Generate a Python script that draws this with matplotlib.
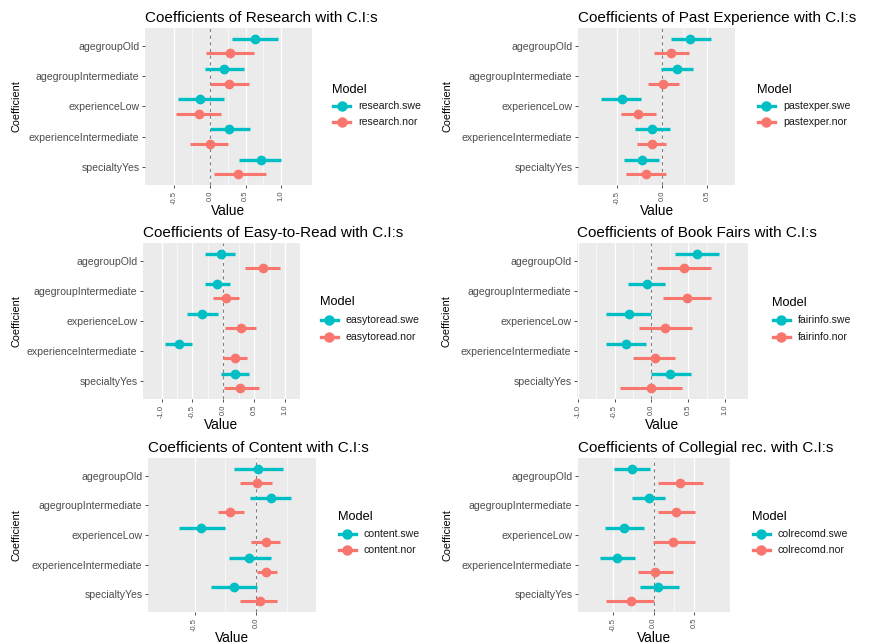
import matplotlib
matplotlib.use('Agg')
import matplotlib.pyplot as plt
from matplotlib.lines import Line2D
from matplotlib.ticker import FixedLocator

plt.rcParams['font.family'] = ['Liberation Sans', 'DejaVu Sans']

W, H = 870, 643

categories = ["agegroupOld", "agegroupIntermediate", "experienceLow",
              "experienceIntermediate", "specialtyYes"]

titles = ["Coefficients of Research with C.I:s",
          "Coefficients of Past Experience with C.I:s",
          "Coefficients of Easy-to-Read with C.I:s",
          "Coefficients of Book Fairs with C.I:s",
          "Coefficients of Content with C.I:s",
          "Coefficients of Collegial rec. with C.I:s"]

model_names = [("research.swe", "research.nor"),
               ("pastexper.swe", "pastexper.nor"),
               ("easytoread.swe", "easytoread.nor"),
               ("fairinfo.swe", "fairinfo.nor"),
               ("content.swe", "content.nor"),
               ("colrecomd.swe", "colrecomd.nor")]

# ---- estimates and (inner) confidence limits, per panel ----
research_swe = [0.63, 0.19, -0.14, 0.27, 0.72]
research_swe_lo = [0.31, -0.07, -0.45, 0.00, 0.41]
research_swe_hi = [0.96, 0.48, 0.20, 0.56, 1.00]
research_nor = [0.28, 0.27, -0.16, 0.00, 0.40]
research_nor_lo = [-0.05, 0.00, -0.48, -0.28, 0.05]
research_nor_hi = [0.62, 0.55, 0.15, 0.25, 0.78]

pastexper_swe = [0.31, 0.17, -0.44, -0.11, -0.22]
pastexper_swe_lo = [0.10, -0.01, -0.67, -0.30, -0.42]
pastexper_swe_hi = [0.54, 0.35, -0.23, 0.09, -0.03]
pastexper_nor = [0.10, 0.01, -0.26, -0.11, -0.18]
pastexper_nor_lo = [-0.09, -0.15, -0.45, -0.28, -0.40]
pastexper_nor_hi = [0.30, 0.19, -0.07, 0.04, 0.04]

easytoread_swe = [-0.04, -0.10, -0.35, -0.71, 0.19]
easytoread_swe_lo = [-0.30, -0.30, -0.59, -0.95, -0.04]
easytoread_swe_hi = [0.19, 0.11, -0.08, -0.50, 0.42]
easytoread_nor = [0.64, 0.04, 0.28, 0.19, 0.27]
easytoread_nor_lo = [0.35, -0.17, 0.03, 0.00, 0.01]
easytoread_nor_hi = [0.91, 0.26, 0.53, 0.38, 0.57]

fairinfo_swe = [0.62, -0.06, -0.30, -0.35, 0.25]
fairinfo_swe_lo = [0.32, -0.32, -0.61, -0.61, -0.01]
fairinfo_swe_hi = [0.92, 0.19, 0.00, -0.08, 0.53]
fairinfo_nor = [0.44, 0.48, 0.19, 0.05, 0.00]
fairinfo_nor_lo = [0.07, 0.16, -0.17, -0.25, -0.43]
fairinfo_nor_hi = [0.81, 0.81, 0.55, 0.32, 0.41]

content_swe = [0.02, 0.12, -0.45, -0.06, -0.18]
content_swe_lo = [-0.18, -0.05, -0.63, -0.22, -0.37]
content_swe_hi = [0.22, 0.29, -0.25, 0.12, 0.01]
content_nor = [0.01, -0.21, 0.08, 0.08, 0.03]
content_nor_lo = [-0.13, -0.31, -0.04, 0.01, -0.13]
content_nor_hi = [0.13, -0.10, 0.20, 0.17, 0.17]

colrecomd_swe = [-0.26, -0.06, -0.37, -0.45, 0.05]
colrecomd_swe_lo = [-0.49, -0.26, -0.60, -0.66, -0.17]
colrecomd_swe_hi = [-0.04, 0.14, -0.12, -0.23, 0.31]
colrecomd_nor = [0.33, 0.28, 0.24, 0.02, -0.28]
colrecomd_nor_lo = [0.05, 0.05, -0.01, -0.19, -0.58]
colrecomd_nor_hi = [0.61, 0.51, 0.51, 0.24, 0.01]

x_ticks = [[-0.5, 0.0, 0.5, 1.0],
           [-0.5, 0.0, 0.5],
           [-1.0, -0.5, 0.0, 0.5, 1.0],
           [-1.0, -0.5, 0.0, 0.5, 1.0],
           [-0.5, 0.0, 0.5],
           [-0.5, 0.0, 0.5]]

series = [
    (research_swe, research_swe_lo, research_swe_hi, research_nor, research_nor_lo, research_nor_hi),
    (pastexper_swe, pastexper_swe_lo, pastexper_swe_hi, pastexper_nor, pastexper_nor_lo, pastexper_nor_hi),
    (easytoread_swe, easytoread_swe_lo, easytoread_swe_hi, easytoread_nor, easytoread_nor_lo, easytoread_nor_hi),
    (fairinfo_swe, fairinfo_swe_lo, fairinfo_swe_hi, fairinfo_nor, fairinfo_nor_lo, fairinfo_nor_hi),
    (content_swe, content_swe_lo, content_swe_hi, content_nor, content_nor_lo, content_nor_hi),
    (colrecomd_swe, colrecomd_swe_lo, colrecomd_swe_hi, colrecomd_nor, colrecomd_nor_lo, colrecomd_nor_hi),
]

# ---- layout (pixels) ----
panel_px = [(145, 28, 312, 185), (578, 28, 735, 185),
            (143, 243, 300, 399), (577, 243, 748, 399),
            (148, 458, 316, 612), (578, 458, 730, 612)]
xlims = [(-0.91, 1.43), (-0.93, 0.81), (-1.30, 1.24),
         (-1.01, 1.31), (-0.88, 0.49), (-0.93, 0.94)]
legend_px = [(332, 90, 106, 122), (757, 90, 106, 122),
             (320, 302, 320, 337), (772, 303, 320, 337),
             (338, 517, 534, 550), (752, 517, 534, 550)]
ylabel_x = [22, 452, 22, 452, 22, 452]

SWE = '#00BFC4'
NOR = '#F8766D'
PANEL_BG = '#EBEBEB'

fig = plt.figure(figsize=(W / 100, H / 100), dpi=100)
fig.patch.set_facecolor('white')

ncat = len(categories)
ypos = [ncat - 1 - i for i in range(ncat)]
dodge = 0.24

for k in range(6):
    l, t, r, b = panel_px[k]
    ax = fig.add_axes([l / W, 1 - b / H, (r - l) / W, (b - t) / H])
    ax.set_facecolor(PANEL_BG)
    for s in ax.spines.values():
        s.set_visible(False)
    ax.set_xlim(*xlims[k])
    ax.set_ylim(-0.6, ncat - 1 + 0.6)
    ticks = x_ticks[k]
    minors = [(ticks[i] + ticks[i + 1]) / 2 for i in range(len(ticks) - 1)]
    ax.xaxis.set_major_locator(FixedLocator(ticks))
    ax.xaxis.set_minor_locator(FixedLocator(minors))
    ax.set_xticklabels([f"{v:.1f}" for v in ticks])
    ax.grid(True, axis='x', which='major', color='white', lw=0.9)
    ax.grid(True, axis='x', which='minor', color='white', lw=0.45)
    ax.set_axisbelow(True)
    ax.set_yticks(ypos)
    ax.set_yticklabels(categories)
    ax.tick_params(axis='y', which='major', length=2.5, width=0.6, color='#333333',
                   labelsize=7.6, labelcolor='#4D4D4D', pad=1.5)
    ax.tick_params(axis='x', which='major', length=2.5, width=0.6, color='#333333',
                   labelsize=5.5, labelcolor='#4D4D4D', labelrotation=90, pad=1.5)
    ax.tick_params(axis='x', which='minor', length=0)

    ax.axvline(0, color='#808080', lw=0.8, ls=(0, (3, 3)), zorder=1)

    sw, swl, swh, nr, nrl, nrh = series[k]
    for i in range(ncat):
        y1 = ypos[i] + dodge
        y2 = ypos[i] - dodge
        ax.plot([swl[i], swh[i]], [y1, y1], color=SWE, lw=2.4, solid_capstyle='butt', zorder=3)
        ax.plot([sw[i]], [y1], 'o', color=SWE, ms=6, zorder=4)
        ax.plot([nrl[i], nrh[i]], [y2, y2], color=NOR, lw=2.2, solid_capstyle='butt', zorder=3)
        ax.plot([nr[i]], [y2], 'o', color=NOR, ms=6, zorder=4)

    ax.set_xlabel('Value', fontsize=9.8, labelpad=0, color='black')
    ax.set_ylabel('Coefficient', fontsize=7.8, color='black')
    ax.yaxis.set_label_coords((ylabel_x[k] - l) / (r - l), 0.5)
    ax.set_title(titles[k], loc='left', fontsize=11, pad=4, color='black')

    # legend
    lx, ly_t, ly1, ly2 = legend_px[k]
    fig.text(lx / W, 1 - ly_t / H, 'Model', fontsize=9.2, ha='left', va='center', color='black')
    for yy, lab, col in zip((ly1, ly2), model_names[k], (SWE, NOR)):
        fig.add_artist(Line2D([(lx + 1) / W, (lx + 18) / W], [1 - yy / H] * 2,
                              transform=fig.transFigure, color=col, lw=2.4))
        fig.add_artist(Line2D([(lx + 9.5) / W], [1 - yy / H], transform=fig.transFigure,
                              marker='o', ms=6.5, color=col, lw=0))
        fig.text((lx + 26) / W, 1 - yy / H, lab, fontsize=7.6, ha='left', va='center',
                 color='#1A1A1A')

fig.savefig('out.png', dpi=100, facecolor='white')
